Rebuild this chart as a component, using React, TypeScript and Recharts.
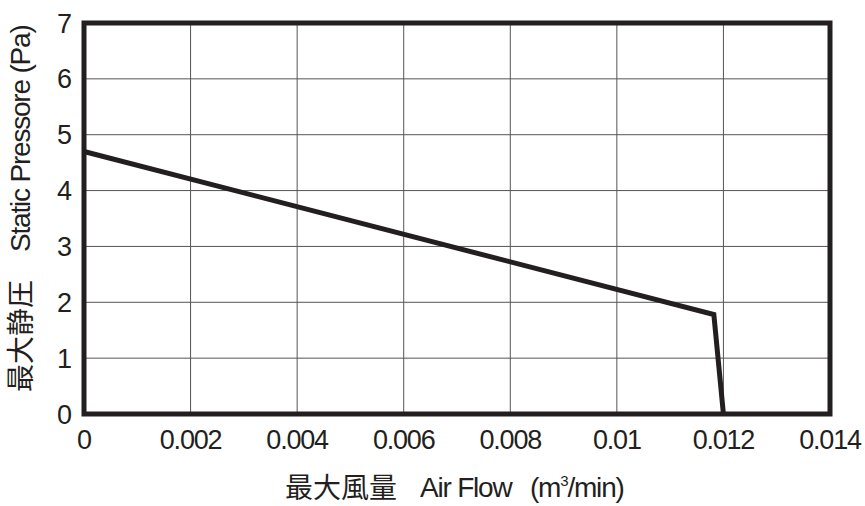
import {
  LineChart,
  Line,
  XAxis,
  YAxis,
  CartesianGrid,
  ReferenceArea,
} from "recharts";

const flowValues = [0, 0.01182, 0.012];
const pressureValues = [4.7, 1.78, 0];
const xTicks = [0, 0.002, 0.004, 0.006, 0.008, 0.01, 0.012, 0.014];
const yTicks = [0, 1, 2, 3, 4, 5, 6, 7];

const data = flowValues.map((f, i) => ({ flow: f, pressure: pressureValues[i] }));

const INK = "#231f20";
const LATIN = "'Liberation Sans', Arial, sans-serif";
const CJK = "'Noto Sans CJK JP', sans-serif";

export default function App() {
  return (
    <div style={{ position: "absolute", left: 0, top: 0, background: "#fff" }}>
      <LineChart
        width={865}
        height={506}
        data={data}
        margin={{ top: 23, right: 35, left: 0, bottom: 0 }}
      >
        <CartesianGrid stroke="#555" strokeWidth={1} horizontalValues={yTicks} verticalValues={xTicks} />
        <XAxis
          dataKey="flow"
          type="number"
          domain={[0, 0.014]}
          ticks={xTicks}
          height={92}
          tickLine={false}
          axisLine={false}
          tickSize={6}
          tickMargin={10}
          tick={{ fill: INK, fontSize: 27, fontFamily: LATIN, letterSpacing: -1.2 }}
          label={{
            content: () => (
              <g fill={INK}>
                <text x={285} y={498} fontSize={28} fontFamily={CJK}>最大風量</text>
                <text x={420} y={497} fontSize={28} fontFamily={LATIN} letterSpacing={-1.2}>Air Flow</text>
                <text x={530} y={497} fontSize={28} fontFamily={LATIN} letterSpacing={-1.2}>
                  (m<tspan dy={-11} fontSize={15}>3</tspan>
                  <tspan dy={11}>/min)</tspan>
                </text>
              </g>
            ),
          }}
        />
        <YAxis
          type="number"
          domain={[0, 7]}
          ticks={yTicks}
          width={84}
          tickLine={false}
          axisLine={false}
          tickSize={6}
          tickMargin={6}
          tick={{ fill: INK, fontSize: 27, fontFamily: LATIN }}
          label={{
            content: () => (
              <g fill={INK}>
                <text
                  x={31}
                  y={392}
                  fontSize={28}
                  fontFamily={CJK}
                  transform="rotate(-90 31 392)"
                >
                  最大静圧
                </text>
                <text
                  x={30}
                  y={252}
                  fontSize={28}
                  fontFamily={LATIN}
                  letterSpacing={-1.2}
                  transform="rotate(-90 30 252)"
                >
                  Static Pressore (Pa)
                </text>
              </g>
            ),
          }}
        />
        <ReferenceArea
          x1={0}
          x2={0.014}
          y1={0}
          y2={7}
          fill="none"
          fillOpacity={0}
          stroke={INK}
          strokeWidth={5}
        />
        <Line
          type="linear"
          dataKey="pressure"
          stroke={INK}
          strokeWidth={5}
          dot={false}
          isAnimationActive={false}
        />
      </LineChart>
    </div>
  );
}
